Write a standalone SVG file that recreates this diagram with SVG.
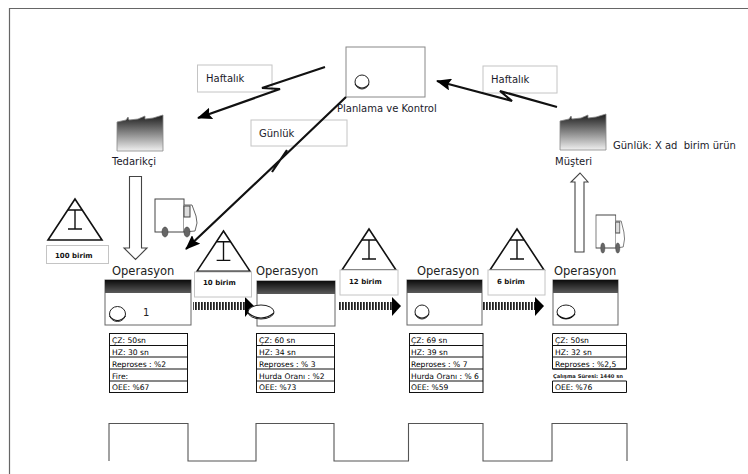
<svg xmlns="http://www.w3.org/2000/svg" width="748" height="474" viewBox="0 0 748 474">
<style>
text{font-family:"DejaVu Sans",sans-serif;fill:#1a1a2a}
.lbl{font-size:10px}
.cap{font-size:10px}
.op{font-size:11.5px;fill:#222}
.qty{font-size:7px;font-weight:bold;fill:#111}
.t{font-size:7.6px;fill:#000}
.note{fill:#fff;stroke:#c4c4c4;stroke-width:1}
.tri{fill:#fff;stroke:#111;stroke-width:1.6}
.ibar{fill:none;stroke:#111;stroke-width:1.4}
.proc{fill:#fff;stroke:#666;stroke-width:1}
.tbl{fill:#fff;stroke:#111;stroke-width:1}
.ln{fill:none;stroke:#111;stroke-width:2.2}
.hollow{fill:#fff;stroke:#444;stroke-width:1.1}
.cyc{fill:#fff;stroke:#222;stroke-width:1}
.cycm{fill:none;stroke:#111;stroke-width:1.1}
.truck{fill:#fff;stroke:#444;stroke-width:1}
.wheel{fill:#666;stroke:#333;stroke-width:.5}
</style>
<defs>
<linearGradient id="hd" x1="0" y1="0" x2="0" y2="1"><stop offset="0" stop-color="#0c0c0c"/><stop offset="1" stop-color="#5a5a5a"/></linearGradient>
<linearGradient id="fc" x1="0" y1="0" x2="0" y2="1"><stop offset="0" stop-color="#1c1c1c"/><stop offset="1" stop-color="#f0f0f0"/></linearGradient>
<pattern id="st" width="3" height="10" patternUnits="userSpaceOnUse"><rect width="3" height="10" fill="#fff"/><rect width="1.8" height="10" fill="#222"/></pattern>
<marker id="ah" markerUnits="userSpaceOnUse" viewBox="0 0 15 12" refX="14" refY="6" markerWidth="15" markerHeight="12" orient="auto"><path d="M0 0L15 6L0 12L2.500 6Z" fill="#000"/></marker>
<g id="tg"><path d="M0 0L-27 41H27Z" class="tri"/><path d="M-7 11H7M0 11V30M-7 30H7" class="ibar"/></g>
<g id="tk"><rect x="0" y="0" width="29" height="33" class="truck"/><path d="M29 6H37L41 17L42 24L40 32L29 33" fill="#fff" stroke="#555" stroke-width=".9"/><rect x="29" y="7" width="6" height="11" fill="#ddd" stroke="#444" stroke-width="1"/><ellipse cx="10" cy="33" rx="3" ry="5" class="wheel"/><ellipse cx="32" cy="33" rx="3" ry="5" class="wheel"/></g>
<path id="fa" d="M0 36V7L9 5L11 2L12 5L21 4L28 1V4L36 3L46 0V36Z" fill="url(#fc)" stroke="#888" stroke-width=".8"/>
</defs>
<rect width="748" height="474" fill="#fff"/>
<path d="M9.500 474V8.500H748" fill="none" stroke="#666" stroke-width="1.200"/>
<g id="wave"><path d="M109 461V423.500H188V461H256V423.500H334V461H408.500V423.500H483V461H552V423.500H627V461" fill="none" stroke="#555" stroke-width="1.100"/></g>

<g id="note-haftalik-l"><rect x="197.500" y="65" width="74.500" height="27" class="note"/><text x="206" y="81.500" class="lbl">Haftalık</text></g>
<g id="note-haftalik-r"><rect x="483" y="66" width="74" height="27" class="note"/><text x="491" y="82.500" class="lbl">Haftalık</text></g>
<g id="note-gunluk"><rect x="251" y="120" width="96" height="26" class="note"/><text x="259" y="136.500" class="lbl">Günlük</text></g>

<g id="planlama"><rect x="346" y="47" width="79" height="50" fill="#fff" stroke="#888"/><circle cx="362" cy="82" r="7" class="cyc"/><path d="M355 84Q362 92 369 84" class="cycm"/><text x="337" y="112" class="cap">Planlama ve Kontrol</text></g>
<g id="tedarikci"><use href="#fa" x="117" y="115"/><text x="112" y="165" class="cap">Tedarikçi</text></g>
<g id="musteri"><use href="#fa" x="560" y="114"/><text x="555" y="165" class="cap">Müşteri</text><text x="613" y="148.500" class="cap" xml:space="preserve">Günlük: X ad  birim ürün</text></g>

<g id="connectors">
<path d="M325 67L262 88L280 89L198 118" class="ln" marker-end="url(#ah)"/>
<path d="M557 107L500 91L512 101L437 81" class="ln" marker-end="url(#ah)"/>
<path d="M346 97L279 161M287 150L272 172M279 161L186 249" class="ln" marker-end="url(#ah)"/>
<path d="M129.500 176.500H141.500V248H147L135.500 259.500L124 248H129.500Z" class="hollow"/>
<path d="M575 252V182H571L580 173L588 182H584V252Z" class="hollow"/>
<g id="push-1"><rect x="193" y="302" width="52" height="8" fill="url(#st)"/><path d="M245 297L254 306L245 317Z" fill="#000"/></g>
<g id="push-2"><rect x="338" y="302" width="54" height="8" fill="url(#st)"/><path d="M392 297L401 306L392 316Z" fill="#000"/></g>
<g id="push-3"><rect x="482" y="302" width="53" height="8" fill="url(#st)"/><path d="M535 297L544 306L535 316Z" fill="#000"/></g>
</g>

<g id="truck-1"><use href="#tk" x="155" y="199"/></g>
<g id="truck-2"><g transform="translate(596 215) scale(.68 1)"><use href="#tk"/></g></g>

<g id="inv-100"><use href="#tg" x="75" y="199"/><rect x="46.500" y="245.500" width="62" height="18" class="note"/><text x="55" y="258" class="qty">100 birim</text></g>
<g id="inv-10"><use href="#tg" transform="translate(223.500 231) scale(.98)"/><rect x="194.500" y="272" width="57" height="25" class="note"/><text x="203" y="285" class="qty">10 birim</text></g>
<g id="inv-12"><use href="#tg" x="369" y="229"/><rect x="340" y="270" width="58" height="25" class="note"/><text x="349" y="284" class="qty">12 birim</text></g>
<g id="inv-6"><use href="#tg" x="517" y="229"/><rect x="488" y="270" width="57" height="25" class="note"/><text x="497" y="284" class="qty">6 birim</text></g>

<g id="op-1"><text x="112" y="275" class="op">Operasyon</text><rect x="105" y="280" width="86" height="45" class="proc"/><rect x="105" y="280" width="86" height="13" fill="url(#hd)"/><ellipse cx="117.500" cy="314" rx="8" ry="7.500" class="cyc"/><path d="M109.500 316Q117.500 325 125.500 316" class="cycm"/><text x="143" y="316" style="font-size:10px;fill:#222">1</text>
<rect x="109.500" y="333.500" width="78" height="59" class="tbl"/><path d="M109.500 345.500H187.500M109.500 357H187.500M109.500 369H187.500M109.500 381H187.500" class="tbl"/>
<text x="112" y="342.500" class="t">ÇZ: 50sn</text><text x="112" y="354.500" class="t">HZ: 30 sn</text><text x="112" y="366.500" class="t">Reproses : %2</text><text x="112" y="378.500" class="t">Fire:</text><text x="112" y="390" class="t">OEE: %67</text></g>

<g id="op-2"><text x="256" y="275" class="op">Operasyon</text><rect x="257" y="281" width="78" height="45" class="proc"/><rect x="257" y="281" width="78" height="13" fill="url(#hd)"/>
<rect x="256.500" y="333.500" width="78" height="59" class="tbl"/><path d="M256.500 345.500H334.500M256.500 357H334.500M256.500 369H334.500M256.500 381H334.500" class="tbl"/>
<text x="259" y="342.500" class="t">ÇZ: 60 sn</text><text x="259" y="354.500" class="t">HZ: 34 sn</text><text x="259" y="366.500" class="t">Reproses : % 3</text><text x="259" y="378.500" class="t">Hurda Oranı : %2</text><text x="259" y="390" class="t">OEE: %73</text></g>
<g id="cycle-2"><ellipse cx="261" cy="312" rx="13" ry="7" class="cyc"/><path d="M248 313Q261 323 274 313" class="cycm"/></g>

<g id="op-3"><text x="417" y="275" class="op">Operasyon</text><rect x="407" y="280" width="75" height="45" class="proc"/><rect x="407" y="280" width="75" height="13" fill="url(#hd)"/><circle cx="422" cy="312" r="7" class="cyc"/><path d="M415 314Q422 322 429 314" class="cycm"/>
<rect x="409.500" y="333.500" width="73.500" height="59" class="tbl"/><path d="M409.500 345.500H483M409.500 357H483M409.500 369H483M409.500 381H483" class="tbl"/>
<text x="411" y="342.500" class="t">ÇZ: 69 sn</text><text x="411" y="354.500" class="t">HZ: 39 sn</text><text x="411" y="366.500" class="t">Reproses : % 7</text><text x="411" y="378.500" class="t">Hurda Oranı : % 6</text><text x="411" y="390" class="t">OEE: %59</text></g>

<g id="op-4"><text x="554" y="275" class="op">Operasyon</text><rect x="553" y="280" width="65" height="45" class="proc"/><rect x="553" y="280" width="65" height="13" fill="url(#hd)"/><ellipse cx="566" cy="312" rx="9" ry="7" class="cyc"/><path d="M557 314Q566 323 575 314" class="cycm"/>
<path d="M552.500 369V333.500H626.500V369ZM552.500 345.500H626.500M552.500 357H626.500M552.500 381V392.500H626.500V381ZM552.500 369H626.500" class="tbl" fill="none"/>
<text x="555" y="342.500" class="t">ÇZ: 50sn</text><text x="555" y="354.500" class="t">HZ: 32 sn</text><text x="555" y="366.500" class="t">Reproses : %2,5</text><text x="553" y="377.500" style="font-size:5.200px;font-weight:bold;fill:#222">Çalışma Süresi: 1440 sn</text><text x="555" y="390" class="t">OEE: %76</text></g>
</svg>
